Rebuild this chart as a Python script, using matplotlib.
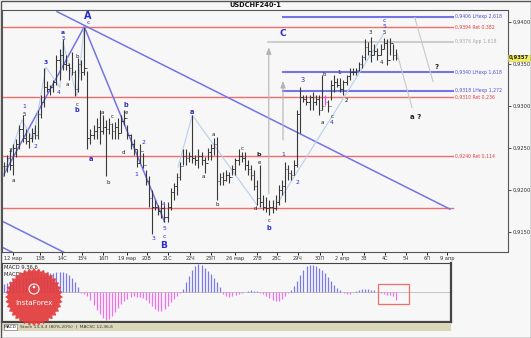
import matplotlib
matplotlib.use("Agg")
import matplotlib.pyplot as plt
from matplotlib.patches import Rectangle, Polygon, Circle
from matplotlib.transforms import Affine2D, blended_transform_factory
import numpy as np

# ---------------- data ----------------
highs = [0.9233, 0.9242, 0.9248, 0.9254, 0.9260, 0.9277, 0.9289, 0.9272, 0.9268, 0.9274,
         0.9277, 0.9295, 0.9313, 0.9345, 0.9329, 0.9325, 0.9331, 0.9361, 0.9367, 0.9379,
         0.9361, 0.9351, 0.9364, 0.9343, 0.9357, 0.9355, 0.9394, 0.9341, 0.9272, 0.9277,
         0.9286, 0.9295, 0.9289, 0.9283, 0.9286, 0.9280, 0.9281, 0.9286, 0.9289, 0.9295,
         0.9277, 0.9266, 0.9260, 0.9248, 0.9254, 0.9244, 0.9224, 0.9216, 0.9200, 0.9188,
         0.9182, 0.9188, 0.9182, 0.9185, 0.9202, 0.9208, 0.9220, 0.9233, 0.9248, 0.9248,
         0.9245, 0.9289, 0.9242, 0.9248, 0.9245, 0.9239, 0.9250, 0.9254, 0.9262, 0.9263,
         0.9220, 0.9221, 0.9224, 0.9221, 0.9230, 0.9238, 0.9248, 0.9245, 0.9245, 0.9236,
         0.9230, 0.9224, 0.9212, 0.9230, 0.9194, 0.9191, 0.9188, 0.9188, 0.9194, 0.9206,
         0.9212, 0.9233, 0.9230, 0.9224, 0.9236, 0.9295, 0.9322, 0.9313, 0.9313, 0.9313,
         0.9317, 0.9313, 0.9313, 0.9337, 0.9313, 0.9307, 0.9331, 0.9337, 0.9333, 0.9333,
         0.9331, 0.9337, 0.9345, 0.9345, 0.9345, 0.9352, 0.9361, 0.9379, 0.9376, 0.9382,
         0.9373, 0.9369, 0.9373, 0.9381, 0.9379, 0.9381, 0.9373, 0.9367]
lows = [0.9216, 0.9221, 0.9224, 0.9218, 0.9239, 0.9248, 0.9257, 0.9254, 0.9250, 0.9257,
        0.9260, 0.9260, 0.9286, 0.9298, 0.9317, 0.9313, 0.9317, 0.9325, 0.9331, 0.9343,
        0.9343, 0.9331, 0.9337, 0.9312, 0.9317, 0.9331, 0.9337, 0.9248, 0.9254, 0.9260,
        0.9260, 0.9254, 0.9266, 0.9216, 0.9266, 0.9260, 0.9260, 0.9260, 0.9268, 0.9277,
        0.9260, 0.9248, 0.9242, 0.9227, 0.9232, 0.9226, 0.9206, 0.9180, 0.9147, 0.9176,
        0.9170, 0.9167, 0.9162, 0.9162, 0.9176, 0.9188, 0.9194, 0.9212, 0.9230, 0.9230,
        0.9233, 0.9232, 0.9230, 0.9226, 0.9230, 0.9220, 0.9236, 0.9236, 0.9242, 0.9188,
        0.9206, 0.9206, 0.9210, 0.9208, 0.9218, 0.9218, 0.9230, 0.9233, 0.9224, 0.9218,
        0.9212, 0.9200, 0.9182, 0.9180, 0.9176, 0.9174, 0.9170, 0.9173, 0.9176, 0.9182,
        0.9194, 0.9185, 0.9212, 0.9212, 0.9218, 0.9227, 0.9268, 0.9305, 0.9301, 0.9295,
        0.9295, 0.9301, 0.9289, 0.9295, 0.9301, 0.9293, 0.9307, 0.9317, 0.9322, 0.9317,
        0.9313, 0.9325, 0.9331, 0.9337, 0.9337, 0.9341, 0.9345, 0.9355, 0.9361, 0.9352,
        0.9361, 0.9355, 0.9361, 0.9367, 0.9349, 0.9361, 0.9355, 0.9355]
closes = [0.9228, 0.9238, 0.9230, 0.9250, 0.9255, 0.9272, 0.9262, 0.9258, 0.9262, 0.9268,
          0.9265, 0.9290, 0.9305, 0.9322, 0.9320, 0.9322, 0.9328, 0.9355, 0.9360, 0.9350,
          0.9348, 0.9345, 0.9340, 0.9320, 0.9350, 0.9340, 0.9345, 0.9262, 0.9265, 0.9270,
          0.9275, 0.9270, 0.9275, 0.9272, 0.9278, 0.9270, 0.9275, 0.9268, 0.9282, 0.9285,
          0.9265, 0.9255, 0.9248, 0.9232, 0.9246, 0.9230, 0.9210, 0.9190, 0.9180, 0.9180,
          0.9175, 0.9178, 0.9168, 0.9180, 0.9198, 0.9205, 0.9215, 0.9228, 0.9240, 0.9238,
          0.9240, 0.9238, 0.9235, 0.9240, 0.9235, 0.9232, 0.9245, 0.9250, 0.9255, 0.9210,
          0.9215, 0.9212, 0.9218, 0.9215, 0.9225, 0.9235, 0.9240, 0.9238, 0.9230, 0.9225,
          0.9218, 0.9205, 0.9190, 0.9185, 0.9180, 0.9178, 0.9180, 0.9178, 0.9185, 0.9200,
          0.9205, 0.9225, 0.9220, 0.9218, 0.9230, 0.9290, 0.9310, 0.9308, 0.9305, 0.9310,
          0.9305, 0.9308, 0.9295, 0.9300, 0.9305, 0.9300, 0.9325, 0.9328, 0.9325, 0.9320,
          0.9328, 0.9335, 0.9340, 0.9340, 0.9342, 0.9350, 0.9358, 0.9370, 0.9365, 0.9360,
          0.9365, 0.9360, 0.9368, 0.9375, 0.9355, 0.9375, 0.9360, 0.9357]
highlight_bar = 104  # magenta bar

macd_hist = [8, 9, 11, 12, 13, 14, 14, 15, 15, 15, 16, 16, 17, 17, 18, 19, 19, 20, 20, 20,
             19, 17, 14, 10, 5,
             -1, -2, -4, -8, -13, -18, -22, -26, -28, -27, -24, -20, -16, -12, -9, -7, -5,
             -4, -5, -5, -6, -8, -11, -14, -17, -19, -19, -17, -14, -10, -7, -4, -1,
             3, 10, 16, 22, 26, 28, 27, 24, 21, 18, 14, 10, 5,
             -2, -4, -5, -4, -3, -2, -1,
             0, 1, 2, 1, 1, -1,
             -2, -4, -6, -8, -9, -9, -7, -4, -1,
             2, 6, 11, 17, 22, 26, 27, 27, 26, 24, 22, 19, 15, 11, 7, 4, 2,
             -1, -2, -2, 0, 1,
             2, 3, 3, 3, 2, 2, 1,
             -1, -2, -3, -3, -4, -8]

levels = [0.9406, 0.9394, 0.9376, 0.9340, 0.9318, 0.9310, 0.9240, 0.9178]
level_names = ["LHexp 2,618", "Ret 0,382", "App 1,618", "LHexp 1,618",
               "LHexp 1,272", "Ret 0,236", "Ret 0,114", ""]
level_kinds = ["blue", "red", "gray", "blue", "blue", "red", "red", "red"]

price_ticks = [0.9150, 0.9200, 0.9250, 0.9300, 0.9350, 0.9400]
last_price = 0.9357

date_ticks = [2.9, 11.7, 18.8, 25.3, 32.1, 39.8, 46.3, 53.1, 60.3, 67.1, 74.8,
              82.0, 88.4, 95.2, 102.4, 109.5, 116.6, 123.4, 130.2, 137.0, 143.5]
date_labels = ["12 мар", "13В", "14С", "15Ч", "16П", "19 мар", "20В", "21С", "22Ч", "23П",
               "26 мар", "27В", "28С", "29Ч", "30П", "2 апр", "3В", "4С", "5Ч", "6П", "9 апр"]

# trend / wave lines (bar index, price)
trend_main = ([17.2, 144.5], [0.9412, 0.9177])
trend_up = ([-1.3, 26.0], [0.9210, 0.9394])
trend_AB = ([26.0, 52.0], [0.9394, 0.9162])
channel_1 = ([-1.3, 30.0], [0.9164, 0.9106])
channel_2 = ([-1.3, 10.0], [0.9133, 0.9112])
wave_traces = [
    ([-0.3, 5.8, 9.4, 13.6, 18.1, 19.1], [0.9216, 0.9283, 0.9260, 0.9346, 0.9322, 0.9376]),
    ([19.1, 23.6, 26.0], [0.9376, 0.9311, 0.9394]),
    ([56.4, 61.0, 82.0], [0.9227, 0.9289, 0.9182]),
    ([88.8, 123.1], [0.9185, 0.9386]),
]
projections = [
    ([127.3, 132.2], [0.9363, 0.9298]),
    ([133.1, 139.0], [0.9405, 0.9329]),
]
arrows = [(85.8, 0.9192, 0.9373), (90.4, 0.9256, 0.9333)]

# ---------------- figure ----------------
W, H = 531, 338
fig = plt.figure(figsize=(W / 100, H / 100), dpi=100)
BG = "#f7f7f7"
fig.patch.set_facecolor(BG)
pxT = Affine2D().scale(1 / W, -1 / H).translate(0, 1) + fig.transFigure


def rect(x0, y0, x1, y1):
    return [x0 / W, 1 - y1 / H, (x1 - x0) / W, (y1 - y0) / H]


BLUE = "#7474e6"
RED = "#f36b6b"
GRAY = "#c4c4c4"
LIGHT = "#b8d0ec"
TXTBLUE = "#2a2ad0"
TXTBLACK = "#222222"

ax = fig.add_axes(rect(2, 10, 508, 252))
ax.set_facecolor(BG)
ax.set_xlim(-0.65, 163.3)
ax.set_ylim(0.9126, 0.9414)
for s in ax.spines.values():
    s.set_color("#555555")
    s.set_linewidth(0.8)

# levels
xend = 145.4
for lvl, name, kind in zip(levels, level_names, level_kinds):
    if kind == "red":
        ax.plot([-0.65, xend], [lvl, lvl], color=RED, lw=1.0, zorder=1)
        col = "#e04040"
    elif kind == "blue":
        ax.plot([90.4, xend], [lvl, lvl], color=BLUE, lw=1.5, zorder=1)
        col = "#5050d8"
    else:
        ax.plot([85.5, xend], [lvl, lvl], color=GRAY, lw=1.2, zorder=1)
        col = "#a8a8a8"
    if name:
        ax.text(146.1, lvl, f"{lvl:.4f}".replace(".", ",") + " " + name,
                fontsize=3.3, color=col, va="center", ha="left")

# trend lines
for xs, ys in [trend_main, trend_up, trend_AB, channel_1, channel_2]:
    ax.plot(xs, ys, color=BLUE, lw=1.1, zorder=2)
for xs, ys in wave_traces:
    ax.plot(xs, ys, color=LIGHT, lw=0.8, zorder=2)
for xs, ys in projections:
    ax.plot(xs, ys, color="#c8c8c8", lw=0.8, zorder=2)
for xa, y0, y1 in arrows:
    ax.annotate("", xy=(xa, y1), xytext=(xa, y0),
                arrowprops=dict(arrowstyle="-|>,head_width=0.15,head_length=0.4",
                                color="#b4b4b4", lw=0.8))

# OHLC bars
n = len(highs)
idx = np.arange(n)
opens = [closes[0]] + closes[:-1]
cols = ["#ee44ee" if i == highlight_bar else "#383838" for i in range(n)]
ax.vlines(idx, lows, highs, colors=cols, lw=0.8, zorder=3)
ax.hlines(opens, idx - 0.45, idx, colors=cols, lw=0.7, zorder=3)
ax.hlines(closes, idx, idx + 0.45, colors=cols, lw=0.7, zorder=3)

# axes ticks
ax.yaxis.tick_right()
ax.set_yticks(price_ticks)
ax.set_yticklabels([f"{p:.4f}".replace(".", ",") for p in price_ticks], fontsize=3.7,
                   color="#333333")
ax.tick_params(axis="y", length=2, width=0.6, pad=1.0, colors="#333333")
ax.set_xticks(date_ticks)
ax.set_xticklabels(date_labels, fontsize=3.6, color="#333333")
ax.tick_params(axis="x", length=2, width=0.6, pad=1.0, direction="out")

# current price marker
trans = blended_transform_factory(ax.transAxes, ax.transData)
ax.text(1.002, last_price, f"{last_price:.4f}".replace(".", ","), transform=trans,
        fontsize=3.8, fontweight="bold", color="#222222", va="center", ha="left",
        bbox=dict(boxstyle="square,pad=0.12", fc="#f4f060", ec="#d8d040", lw=0.4),
        zorder=10, clip_on=False)

# wave labels (pixel positions on the image)
labels = [
    ("A", 88, 16, TXTBLUE, 7, True), ("B", 164, 245, TXTBLUE, 6.5, True),
    ("C", 283, 33, TXTBLUE, 6.5, True),
    ("c", 88, 23, TXTBLUE, 4.3, False), ("a", 63, 33, TXTBLUE, 4.3, True),
    ("5", 63, 39, TXTBLUE, 4.3, False), ("3", 46, 62, TXTBLUE, 4.3, True),
    ("4", 59, 92, TXTBLUE, 4.3, False), ("1", 24, 107, TXTBLUE, 4.3, False),
    ("5", 24, 114, TXTBLACK, 4.0, False), ("2", 35, 147, TXTBLUE, 4.3, False),
    ("3", 10, 151, TXTBLACK, 4.0, False), ("a", 13, 181, TXTBLACK, 4.0, False),
    ("b", 77, 57, TXTBLACK, 4.0, False), ("a", 67, 85, TXTBLACK, 4.0, False),
    ("c", 77, 104, TXTBLACK, 4.0, False), ("b", 77, 110, TXTBLUE, 4.8, True),
    ("a", 91, 159, TXTBLUE, 4.8, True), ("a", 102, 113, TXTBLACK, 4.0, False),
    ("c", 112, 117, TXTBLACK, 4.0, False), ("b", 126, 105, TXTBLUE, 4.8, True),
    ("e", 126, 113, TXTBLACK, 4.0, False), ("d", 123, 153, TXTBLACK, 4.0, False),
    ("b", 108, 183, TXTBLACK, 4.0, False), ("1", 136, 175, TXTBLUE, 4.3, False),
    ("2", 143, 142, TXTBLUE, 4.3, False), ("3", 153, 239, TXTBLUE, 4.3, False),
    ("4", 164, 204, TXTBLUE, 4.3, False), ("5", 164, 229, TXTBLUE, 4.3, False),
    ("c", 164, 237, TXTBLUE, 4.3, False), ("a", 192, 112, TXTBLUE, 4.8, True),
    ("a", 203, 177, TXTBLACK, 4.0, False), ("a", 213, 135, TXTBLACK, 4.0, False),
    ("b", 217, 205, TXTBLACK, 4.0, False), ("c", 242, 148, TXTBLACK, 4.0, False),
    ("b", 259, 155, TXTBLACK, 4.6, True), ("e", 259, 163, TXTBLACK, 4.0, False),
    ("d", 255, 209, TXTBLACK, 4.0, False), ("c", 269, 221, TXTBLACK, 4.0, False),
    ("b", 269, 228, TXTBLUE, 4.8, True), ("1", 283, 154, TXTBLUE, 4.3, False),
    ("2", 297, 182, TXTBLUE, 4.3, False), ("3", 303, 80, TXTBLUE, 4.8, False),
    ("b", 324, 75, TXTBLACK, 4.0, False), ("1", 339, 73, TXTBLACK, 4.0, False),
    ("a", 322, 122, TXTBLACK, 4.0, False), ("c", 332, 117, TXTBLACK, 4.0, False),
    ("4", 332, 123, TXTBLUE, 4.3, False), ("2", 346, 101, TXTBLACK, 4.0, False),
    ("3", 370, 33, TXTBLACK, 4.0, False), ("c", 384, 20, TXTBLUE, 4.3, False),
    ("5", 384, 26, TXTBLUE, 4.3, False), ("5", 384, 32, TXTBLACK, 4.0, False),
    ("4", 381, 62, TXTBLACK, 4.0, False), ("?", 437, 67, TXTBLACK, 5, True),
    ("a ?", 416, 117, TXTBLACK, 5, True),
]
for t, x, y, c, fs, b in labels:
    fig.text(x, y, t, transform=pxT, color=c, fontsize=fs,
             fontweight="bold" if b else "normal", ha="center", va="center", zorder=5)

# title
fig.text(255, 5, "USDCHF240-1", transform=pxT, fontsize=4.8, fontweight="bold",
         ha="center", va="center", color="#111111")

# ---------------- MACD panel ----------------
ax2 = fig.add_axes(rect(2, 263, 451, 322))
ax2.set_facecolor(BG)
ax2.set_xlim(-0.65, 144.8)
ax2.set_ylim(-30, 29)
ax2.set_xticks([])
ax2.set_yticks([])
for s in ax2.spines.values():
    s.set_color("#444444")
    s.set_linewidth(0.8)
ax2.spines["right"].set_linewidth(1.6)
ax2.spines["bottom"].set_linewidth(1.6)
ax2.axhline(0, color="#b0b0b0", lw=0.5, zorder=1)
mcols = ["#7a7aee" if v >= 0 else "#f070f0" for v in macd_hist]
ax2.vlines(np.arange(len(macd_hist)), 0, macd_hist, colors=mcols, lw=0.9, zorder=2)
ax2.add_patch(Rectangle((121.2, -12), 10.0, 20, fill=False, ec=RED, lw=0.9, zorder=3))
ax2.text(0.005, 0.97, "MACD 9,36,6", transform=ax2.transAxes, fontsize=3.8,
         va="top", ha="left", color="#222222")
ax2.text(0.005, 0.84, "MACD =", transform=ax2.transAxes, fontsize=3.8,
         va="top", ha="left", color="#222222")
ax2.text(0.058, 0.84, "0.00", transform=ax2.transAxes, fontsize=3.8,
         va="top", ha="left", color="#ee33ee")

# bottom tab strip
fig.add_artist(Rectangle((2, 322.5), 449, 8.5, transform=pxT, fc="#dad7bb", ec="none",
                         zorder=0.5))
fig.add_artist(Rectangle((4, 323.5), 13, 6.5, transform=pxT, fc="#ffffff", ec="#666666",
                         lw=0.4, zorder=0.6))
fig.text(10.5, 327, "MACD", transform=pxT, fontsize=3.2, ha="center", va="center",
         color="#222222")
fig.text(20, 327, "Stoch 13,3,3 (80%,20%)  |  MACSC 12,36,6", transform=pxT,
         fontsize=3.2, ha="left", va="center", color="#333333")

# InstaForex badge
cx, cy, R, r = 34, 297, 29, 26
ang = np.linspace(0, 2 * np.pi, 73)[:-1]
rad = np.where(np.arange(72) % 2 == 0, R, r)
star = np.column_stack([cx + rad * np.cos(ang), cy + rad * np.sin(ang)])
fig.add_artist(Polygon(star, closed=True, transform=pxT, fc="#e23c3c", ec="none",
                       alpha=0.93, zorder=4))
fig.add_artist(Circle((cx, cy - 8), 5, transform=pxT, fill=False, ec="white", lw=0.8,
                      zorder=4.5))
fig.add_artist(Circle((cx, cy - 10), 1.3, transform=pxT, fc="white", ec="none",
                      zorder=4.5))
fig.text(cx, cy + 6, "InstaForex", transform=pxT, fontsize=5.2, color="white",
         ha="center", va="center", zorder=5)

# outer border
fig.add_artist(Rectangle((0.5, 0.5), 530, 337, transform=pxT, fill=False,
                         ec="#555555", lw=1.0, zorder=6))

fig.savefig("out.png", dpi=100, facecolor=fig.get_facecolor())
